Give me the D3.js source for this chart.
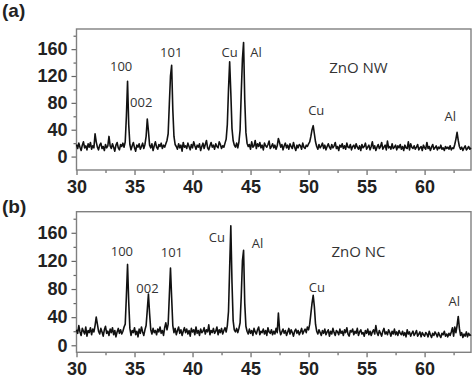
<!DOCTYPE html>
<html>
<head>
<meta charset="utf-8">
<script src="https://cdn.jsdelivr.net/npm/d3@7"></script>
<style>
  body { margin: 0; background: #fff; }
  svg { display: block; }
  .tick text { font-family: "Liberation Sans", Arial, sans-serif; font-weight: bold; font-size: 18px; fill: #222; }
  .peak { font-family: "Open Sans", sans-serif; font-size: 13px; fill: #333; }
  .sample { font-family: "Open Sans", sans-serif; font-size: 15px; fill: #333; }
  .panel-tag { font-family: "Liberation Sans", Arial, sans-serif; font-weight: bold; font-size: 19px; fill: #222; }
</style>
</head>
<body>
<div class="chart-container"></div>
<script>
// 2-theta grid of the scans (degrees)
var angleStart = 30,
    angleStep = 0.1;

// ZnO NW intensities, one row per degree (30.0 .. 63.9, then 64.0)
var nwIntensity = [
  18,12,20,14,9,17,22,13,16,10,
  19,14,21,11,16,13,34,22,14,10,
  17,20,12,15,9,18,13,16,30,16,
  12,19,14,8,17,21,13,10,18,15,
  20,14,22,60,112,48,18,10,16,21,
  13,8,17,14,19,11,15,20,12,18,
  30,56,38,17,13,19,9,16,22,14,
  11,18,15,20,12,17,14,19,24,34,
  78,120,136,70,30,18,15,11,19,13,
  17,8,21,14,16,12,20,15,10,18,
  13,22,16,11,17,14,19,9,15,20,
  12,18,24,13,10,16,21,14,17,11,
  19,15,13,22,18,12,16,14,20,26,
  48,100,141,95,42,24,17,14,20,13,
  22,40,95,145,170,85,36,20,15,18,
  11,22,14,16,24,12,19,15,21,13,
  17,10,20,16,14,18,23,12,15,19,
  13,17,11,16,27,21,14,18,10,16,
  20,13,17,11,19,15,12,21,14,9,
  17,13,18,16,11,20,14,12,17,15,
  19,22,30,40,46,34,22,15,11,18,
  13,16,20,12,17,10,15,19,14,11,
  18,13,16,21,12,15,9,17,14,19,
  12,16,11,20,14,13,18,10,15,17,
  12,19,14,11,16,9,18,13,15,20,
  11,14,17,10,15,22,12,16,9,14,
  18,12,15,21,11,14,17,10,23,13,
  15,11,19,12,14,17,10,16,13,18,
  11,15,9,17,13,12,22,10,19,14,
  12,16,11,14,18,10,13,15,9,17,
  13,11,21,12,15,9,14,18,11,13,
  16,10,14,12,17,11,13,9,15,12,
  14,11,16,10,13,12,18,26,36,24,
  15,11,14,9,13,16,10,12,15,11,
  13
];

// ZnO NC intensities, same grid
var ncIntensity = [
  22,17,28,19,14,24,20,16,26,13,
  21,18,25,15,23,19,28,40,30,20,
  16,24,19,13,22,27,17,20,14,23,
  18,25,15,21,12,19,24,17,22,16,
  20,26,30,70,115,62,24,14,21,18,
  25,15,20,12,23,17,26,19,14,22,
  28,50,73,45,22,16,24,18,21,15,
  23,19,26,17,21,14,25,32,22,30,
  70,110,68,28,18,24,15,21,26,17,
  22,14,20,25,18,23,16,21,13,24,
  19,22,15,26,17,21,14,23,18,20,
  25,16,22,19,29,15,21,18,24,17,
  20,26,15,22,18,24,16,21,25,19,
  28,48,110,170,90,35,22,19,24,18,
  24,32,70,120,135,60,27,20,16,23,
  17,21,14,24,19,16,22,26,15,20,
  18,23,16,21,14,25,19,17,22,15,
  20,16,24,18,46,22,15,19,23,17,
  21,14,19,24,16,22,18,13,20,23,
  17,21,15,19,24,16,20,23,18,26,
  22,30,45,60,71,55,30,20,16,22,
  18,14,21,17,23,15,19,22,13,20,
  16,24,18,14,21,19,15,23,17,20,
  14,22,18,25,16,13,21,19,23,15,
  20,17,24,14,19,22,16,18,13,21,
  17,23,15,20,14,19,22,16,28,18,
  14,21,17,13,20,24,16,19,15,22,
  18,13,20,16,23,15,19,14,21,17,
  15,20,14,18,12,22,16,19,13,17,
  20,14,17,21,13,16,19,12,18,15,
  13,18,16,12,20,15,11,17,14,19,
  16,12,18,14,11,17,15,20,13,16,
  12,17,14,19,25,13,26,18,28,41,
  24,14,18,11,16,13,19,12,17,14,
  15
];

// tick values
var angleTicks = [30, 35, 40, 45, 50, 55, 60],
    angleMinorTicks = [32.5, 37.5, 42.5, 47.5, 52.5, 57.5, 62.5],
    countTicks = [0, 40, 80, 120, 160],
    countMinorTicks = [20, 60, 100, 140, 180];

// peak annotations, anchored in data units [angle, intensity]
var nwLabels = ["100", "002", "101", "Cu", "Al", "Cu", "Al"],
    nwLabelAngle = [33.85, 35.58, 38.16, 43.19, 45.47, 50.66, 62.21],
    nwLabelLevel = [135, 82, 156, 156, 156, 70, 60];
var ncLabels = ["100", "002", "101", "Cu", "Al", "Cu", "Al"],
    ncLabelAngle = [33.91, 36.12, 38.22, 42.1, 45.6, 50.72, 62.56],
    ncLabelLevel = [134, 82, 133, 154, 145, 83, 63];

var width = 474, height = 378;

var svg = d3.select('.chart-container').append("svg")
    .attr("width", width)
    .attr("height", height);

function styleTicks(a) {
  a.select(".domain").remove();
  a.selectAll("line").attr("stroke", "#666").attr("stroke-width", 1.2);
}

function drawPanel(opts) {
  var x = d3.scaleLinear().domain([30, 64]).range([76.5, 471]);
  var y = d3.scaleLinear().domain(opts.yDomain).range([opts.bottom, opts.top]);

  var g = svg.append("g");

  var points = opts.values.map(function(v, i) {
    return [angleStart + i * angleStep, v];
  });

  // x axis: major + minor ticks
  g.append("g")
      .attr("transform", "translate(0," + opts.bottom + ")")
      .call(d3.axisBottom(x).tickValues(angleTicks).tickSize(5).tickPadding(5).tickFormat(d3.format("d")))
      .call(styleTicks);
  g.append("g")
      .attr("transform", "translate(0," + opts.bottom + ")")
      .call(d3.axisBottom(x).tickValues(angleMinorTicks).tickSize(3).tickFormat(""))
      .call(styleTicks);

  // y axis
  g.append("g")
      .attr("transform", "translate(76.5,0)")
      .call(d3.axisLeft(y).tickValues(countTicks).tickSize(5).tickPadding(4))
      .call(styleTicks);
  g.append("g")
      .attr("transform", "translate(76.5,0)")
      .call(d3.axisLeft(y).tickValues(countMinorTicks).tickSize(3).tickFormat(""))
      .call(styleTicks);

  // frame
  g.append("rect")
      .attr("x", x.range()[0])
      .attr("y", opts.top)
      .attr("width", x.range()[1] - x.range()[0])
      .attr("height", opts.bottom - opts.top)
      .attr("fill", "none")
      .attr("stroke", "#808080")
      .attr("stroke-width", 1.4);

  // the scan
  g.append("path")
      .datum(points)
      .attr("fill", "none")
      .attr("stroke", "#111")
      .attr("stroke-width", 1.6)
      .attr("stroke-linejoin", "round")
      .attr("d", d3.line()
        .x(function(d) { return x(d[0]); })
        .y(function(d) { return y(d[1]); }));

  // peak labels
  g.selectAll(".peak")
      .data(opts.labels)
    .enter().append("text")
      .attr("class", "peak")
      .attr("x", function(d, i) { return x(opts.labelAngle[i]); })
      .attr("y", function(d, i) { return y(opts.labelLevel[i]); })
      .attr("text-anchor", "middle")
      .attr("dominant-baseline", "central")
      .text(function(d) { return d; });

  g.append("text")
      .attr("class", "sample")
      .attr("x", x(54.3))
      .attr("y", y(134))
      .attr("text-anchor", "middle")
      .attr("dominant-baseline", "central")
      .text(opts.sample);

  g.append("text")
      .attr("class", "panel-tag")
      .attr("x", 2)
      .attr("y", opts.tagY)
      .text(opts.tag);
}

drawPanel({
  values: nwIntensity, yDomain: [-20, 190], top: 29, bottom: 170,
  labels: nwLabels, labelAngle: nwLabelAngle, labelLevel: nwLabelLevel,
  sample: "ZnO NW", tag: "(a)", tagY: 17
});

drawPanel({
  values: ncIntensity, yDomain: [-10, 190], top: 211.7, bottom: 352.3,
  labels: ncLabels, labelAngle: ncLabelAngle, labelLevel: ncLabelLevel,
  sample: "ZnO NC", tag: "(b)", tagY: 213
});
</script>
</body>
</html>
